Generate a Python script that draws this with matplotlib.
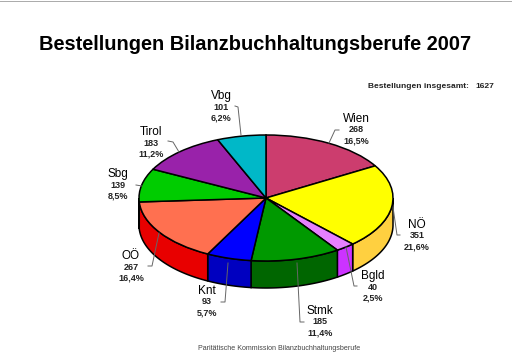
import numpy as np
import matplotlib
matplotlib.use("Agg")
import matplotlib.pyplot as plt
from matplotlib.patches import Wedge, Polygon
from matplotlib.transforms import Affine2D

plt.rcParams['font.family'] = ['Liberation Sans', 'DejaVu Sans']

labels = ['Wien', 'NÖ', 'Bgld', 'Stmk', 'Knt', 'OÖ', 'Sbg', 'Tirol', 'Vbg']
values = [268, 351, 40, 185, 93, 267, 139, 183, 101]
percents = ['16,5%', '21,6%', '2,5%', '11,4%', '5,7%', '16,4%', '8,5%', '11,2%', '6,2%']
top_colors = ['#CC3D6E', '#FFFF00', '#E680FF', '#009900', '#0000FF', '#FF7050', '#00CC00', '#9922AA', '#00B8C8']
side_colors = ['#99294F', '#FFD040', '#CC33FF', '#006600', '#0000C0', '#E80000', '#009900', '#771188', '#008899']

# label block centre (x, y of the name), and leader line, in pixels
label_pos = [(356, 119), (417, 225), (373, 276), (320, 311), (207, 291), (131, 256), (118, 174), (151, 132), (221, 96)]
leaders = [[(329, 143), (335, 130), (339, 130)],
           [(393, 207), (397, 235), (400, 235)],
           [(346, 247), (354, 286), (357, 286)],
           [(297, 263), (300, 322), (304, 322)],
           [(228, 263), (225, 302), (221, 302)],
           [(159, 233), (152, 266), (148, 266)],
           [(142, 186), (136, 185)],
           [(179, 152), (173, 142), (168, 141)],
           [(241, 135), (238, 107), (235, 106)]]

cx, cy, rx, ry, depth = 266, 198, 127, 63, 27

fig = plt.figure(figsize=(5.12, 3.61), dpi=100)
ax = fig.add_axes([0, 0, 1, 1])
ax.set_xlim(0, 512)
ax.set_ylim(361, 0)
ax.axis('off')

# unit circle squashed to the pie ellipse (y axis is flipped, so mirror it back)
pie = Affine2D().scale(rx, -ry).translate(cx, cy) + ax.transData

frac = np.cumsum([0] + values) / sum(values)
angles = 90 - 360 * frac

# side wall, only the front half shows
for i in range(len(values)):
    a1, a0 = angles[i], angles[i + 1]
    lo = max(a0, -180)
    hi = min(a1, 0)
    if lo >= hi:
        continue
    t = np.radians(np.linspace(lo, hi, 40))
    x = cx + rx * np.cos(t)
    y = cy - ry * np.sin(t)
    pts = np.r_[np.c_[x, y], np.c_[x, y + depth][::-1]]
    ax.add_patch(Polygon(pts, closed=True, fc=side_colors[i], ec='black', lw=1.1, zorder=2))

for i in range(len(values)):
    a1, a0 = angles[i], angles[i + 1]
    ax.add_patch(Wedge((0, 0), 1, a0, a1, fc=top_colors[i], ec='black', lw=1.1,
                       transform=pie, zorder=3))

for i, name in enumerate(labels):
    xl, yl = label_pos[i]
    ax.text(xl, yl, name, fontsize=8.5, ha='center', va='center', color='black', zorder=5)
    ax.text(xl, yl + 11, str(values[i]), fontsize=6.5, fontweight='bold', ha='center', va='center', color='#222222', zorder=5)
    ax.text(xl, yl + 22, percents[i], fontsize=6.5, fontweight='bold', ha='center', va='center', color='#222222', zorder=5)
    p = np.array(leaders[i])
    ax.plot(p[:, 0], p[:, 1], color='#666666', lw=0.7, zorder=4)

ax.text(255, 44, 'Bestellungen Bilanzbuchhaltungsberufe 2007', fontsize=14.4, fontweight='bold',
        ha='center', va='center', color='black')
ax.text(368, 86, 'Bestellungen insgesamt:', fontsize=6, fontweight='bold', ha='left', va='center', color='#222222')
ax.text(475, 86, '1627', fontsize=6, fontweight='bold', ha='left', va='center', color='#222222')
ax.text(279, 348, 'Paritätische Kommission Bilanzbuchhaltungsberufe', fontsize=5.1, ha='center', va='center', color='#444444')

# screenshot edge lines
ax.plot([0, 512], [0.5, 0.5], color='#AAAAAA', lw=0.7)
ax.plot([511.5, 511.5], [27, 105], color='#DDDDDD', lw=0.7)

fig.savefig('out.png', dpi=100)
